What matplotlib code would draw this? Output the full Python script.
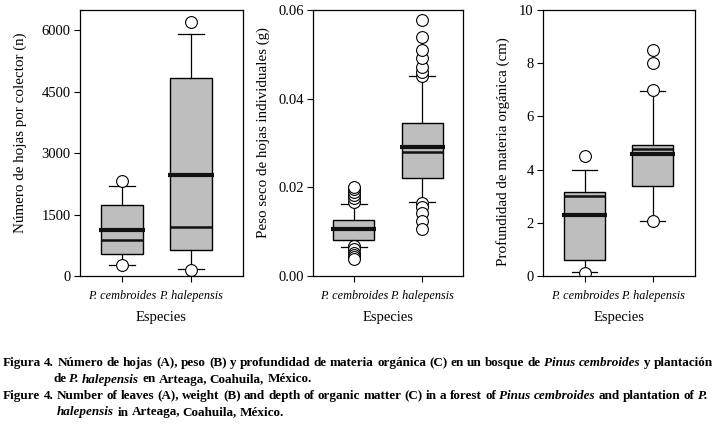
import matplotlib
matplotlib.use('Agg')
import matplotlib.pyplot as plt

plt.rcParams['font.family'] = ['Liberation Serif', 'DejaVu Serif']

species = ['P. cembroides', 'P. halepensis']

# Panel A: number of leaves per collector
hojas_q1 = [546, 627]
hojas_med = [888, 1197]
hojas_q3 = [1743, 4837]
hojas_lo = [277, 163]
hojas_hi = [2190, 5920]
hojas_mean = [1116, 2459]
hojas_fliers = [[2313, 280], [6197, 155]]

# Panel B: dry weight of individual leaves
peso_q1 = [0.0082, 0.0222]
peso_med = [0.0105, 0.0279]
peso_q3 = [0.0127, 0.0346]
peso_lo = [0.0066, 0.0166]
peso_hi = [0.0163, 0.0450]
peso_mean = [0.0107, 0.0291]
peso_fliers = [[0.0167, 0.0175, 0.0183, 0.0190, 0.0196, 0.0201,
                0.0068, 0.0060, 0.0053, 0.0047, 0.0042, 0.0038],
               [0.0451, 0.0461, 0.0472, 0.0491, 0.0510, 0.0538, 0.0577,
                0.0165, 0.0156, 0.0141, 0.0123, 0.0107]]

# Panel C: depth of organic matter
prof_q1 = [0.59, 3.37]
prof_med = [3.0, 4.78]
prof_q3 = [3.14, 4.94]
prof_lo = [0.15, 2.06]
prof_hi = [4.0, 6.95]
prof_mean = [2.31, 4.57]
prof_fliers = [[4.53, 0.12], [8.5, 8.0, 7.0, 2.05]]

W, H = 722, 426
fig = plt.figure(figsize=(W / 100, H / 100), dpi=100)


def make_stats(q1, med, q3, lo, hi, mean, fliers):
    stats = []
    for i in range(len(q1)):
        stats.append({'q1': q1[i], 'med': med[i], 'q3': q3[i], 'whislo': lo[i],
                      'whishi': hi[i], 'mean': mean[i], 'fliers': fliers[i],
                      'label': species[i]})
    return stats


def panel(rect, stats, ylim, yticks, yticklabels, ylabel, xlim, ylabel_pos):
    ax = fig.add_axes(rect)
    ax.bxp(stats, positions=[1, 2], widths=0.6, patch_artist=True,
           showmeans=False, capwidths=0.37,
           boxprops=dict(facecolor='#bebebe', edgecolor='black', linewidth=1),
           whiskerprops=dict(color='black', linewidth=0.9),
           capprops=dict(color='black', linewidth=0.9),
           medianprops=dict(color='#111111', linewidth=1.8),
           flierprops=dict(marker='o', markersize=8.5, markerfacecolor='white',
                           markeredgecolor='black', markeredgewidth=0.8))
    # mean as thick line slightly wider than the box
    for i, s in enumerate(stats):
        ax.hlines(s['mean'], i + 1 - 0.33, i + 1 + 0.33, color='#111111',
                  linewidth=3.0, zorder=5)
    ax.set_xlim(*xlim)
    ax.set_ylim(*ylim)
    ax.set_yticks(yticks)
    ax.set_yticklabels(yticklabels)
    ax.set_xticks([1, 2])
    ax.set_xticklabels(species, fontstyle='italic', fontsize=8.8)
    ax.tick_params(axis='y', labelsize=10.5, length=4.3, width=0.8, pad=2.5)
    ax.tick_params(axis='x', length=4.3, width=0.8, pad=6)
    ax.set_xlabel('Especies', fontsize=10.5, labelpad=6)
    ax.set_ylabel(ylabel, fontsize=10.8)
    ax.yaxis.set_label_coords(*ylabel_pos)
    for sp in ax.spines.values():
        sp.set_linewidth(0.9)
    return ax


bottom = 1 - 276 / H
height = 266 / H

panel([80 / W, bottom, 163 / W, height],
      make_stats(hojas_q1, hojas_med, hojas_q3, hojas_lo, hojas_hi, hojas_mean, hojas_fliers),
      (0, 6500), [0, 1500, 3000, 4500, 6000], ['0', '1500', '3000', '4500', '6000'],
      'Número de hojas por colector (n)', (0.39, 2.75), (-0.325, 0.54))

panel([313 / W, bottom, 150 / W, height],
      make_stats(peso_q1, peso_med, peso_q3, peso_lo, peso_hi, peso_mean, peso_fliers),
      (0, 0.06), [0, 0.02, 0.04, 0.06], ['0.00', '0.02', '0.04', '0.06'],
      'Peso seco de hojas individuales (g)', (0.40, 2.60), (-0.287, 0.54))

panel([543 / W, bottom, 152 / W, height],
      make_stats(prof_q1, prof_med, prof_q3, prof_lo, prof_hi, prof_mean, prof_fliers),
      (0, 10), [0, 2, 4, 6, 8, 10], ['0', '2', '4', '6', '8', '10'],
      'Profundidad de materia orgánica (cm)', (0.385, 2.62), (-0.217, 0.466))

# caption with mixed roman / italic runs, one text per word
renderer = fig.canvas.get_renderer()


def text_width(s, size, style):
    t = fig.text(0, 0, s, fontsize=size, fontweight='bold', fontstyle=style)
    w = t.get_window_extent(renderer).width
    t.remove()
    return w


def rich_line(x_px, y_px, parts, size):
    space = text_width('a a', size, 'normal') - text_width('aa', size, 'normal')
    x = x_px
    for txt, ital in parts:
        style = 'italic' if ital else 'normal'
        if txt.startswith(' '):
            x += space
        body = txt.strip(' ')
        pos = 0
        for wd in body.split(' '):
            k = body.index(wd, pos) if wd else pos
            head = body[:k]
            off = text_width(head.rstrip(), size, style) + space if head.strip() else 0
            if wd:
                fig.text((x + off) / W, 1 - y_px / H, wd, fontsize=size, fontweight='bold',
                         fontstyle=style, va='baseline')
            pos = k + len(wd)
        x += text_width(body, size, style)
        if txt.endswith(' '):
            x += space


cap_size = 9.45
rich_line(3, 366, [('Figura 4. Número de hojas (A), peso (B) y profundidad de materia orgánica (C) en un bosque de ', False),
                   ('Pinus cembroides', True), (' y plantación', False)], cap_size)
rich_line(53, 382.5, [('de ', False), ('P. halepensis', True), (' en Arteaga, Coahuila, México.', False)],
          cap_size)
rich_line(3, 399, [('Figure 4. Number of leaves (A), weight (B) and depth of organic matter (C) in a forest of ', False),
                   ('Pinus cembroides', True), (' and plantation of ', False), ('P.', True)], cap_size)
rich_line(57, 415.5, [('halepensis', True), (' in Arteaga, Coahuila, México.', False)], cap_size)

fig.savefig('out.png', dpi=100)
